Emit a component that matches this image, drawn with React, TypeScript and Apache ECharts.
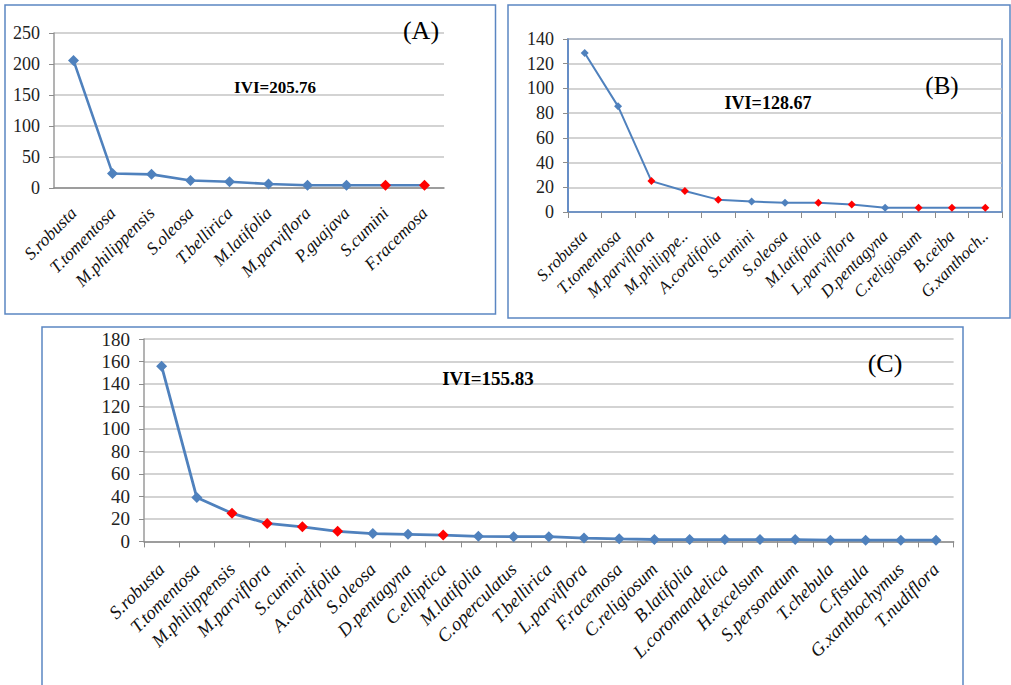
import React, { useEffect, useRef } from "react";
import * as echarts from "echarts";

// Panel A
const categoriesA = ["S.robusta", "T.tomentosa", "M.philippensis", "S.oleosa", "T.bellirica", "M.latifolia", "M.parviflora", "P.guajava", "S.cumini", "F.racemosa"];
const valuesA = [205.76, 23.5, 22, 12, 10, 6.5, 4.5, 4.5, 4.5, 4.5];
const highlightA = ["S.cumini", "F.racemosa"];

// Panel B
const categoriesB = ["S.robusta", "T.tomentosa", "M.parviflora", "M.philippe..", "A.cordifolia", "S.cumini", "S.oleosa", "M.latifolia", "L.parviflora", "D.pentagyna", "C.religiosum", "B.ceiba", "G.xanthoch.."];
const valuesB = [128.67, 85.5, 25, 17, 10, 8.5, 7.5, 7.5, 6, 3.5, 3.5, 3.5, 3.5];
const highlightB = ["M.parviflora", "M.philippe..", "A.cordifolia", "M.latifolia", "L.parviflora", "C.religiosum", "B.ceiba", "G.xanthoch.."];

// Panel C
const categoriesC = ["S.robusta", "T.tomentosa", "M.philippensis", "M.parviflora", "S.cumini", "A.cordifolia", "S.oleosa", "D.pentagyna", "C.elliptica", "M.latifolia", "C.operculatus", "T.bellirica", "L.parviflora", "F.racemosa", "C.religiosum", "B.latifolia", "L.coromandelica", "H.excelsum", "S.personatum", "T.chebula", "C.fistula", "G.xanthochymus", "T.nudiflora"];
const valuesC = [155.83, 39, 25, 16, 13, 9, 7, 6.3, 5.6, 4.5, 4.2, 4.2, 3, 2.3, 1.7, 1.6, 1.6, 1.6, 1.6, 1.1, 1.1, 1.1, 1.1];
const highlightC = ["M.philippensis", "M.parviflora", "S.cumini", "A.cordifolia", "C.elliptica"];

const panelTitles = ["(A)", "(B)", "(C)"];
const iviLabels = ["IVI=205.76", "IVI=128.67", "IVI=155.83"];
const yMax = [250, 140, 180];
const yInterval = [50, 20, 20];

const BLUE = "#4F81BD";
const RED = "#FF0000";
const FONT = "Liberation Serif";
const BOX = "#5B86C2";

function mkData(cats: string[], vals: number[], hi: string[]) {
  return vals.map((v, i) => ({
    value: v,
    itemStyle: { color: hi.includes(cats[i]) ? RED : BLUE },
  }));
}

export default function App() {
  const ref = useRef<HTMLDivElement>(null);
  useEffect(() => {
    if (!ref.current) return;
    const chart = echarts.init(ref.current, undefined, { renderer: "svg" });
    const grids = [
      { left: 54, top: 33, width: 390, height: 155 },
      { left: 568, top: 39, width: 434, height: 173, show: true, borderColor: BOX, borderWidth: 1.5, backgroundColor: "transparent" },
      { left: 144, top: 339, width: 809.6, height: 202.4 },
    ];
    const cats = [categoriesA, categoriesB, categoriesC];
    const xFont = [17.5, 17, 18.5];
    const yFont = [18, 18, 19];
    const xMargin = [22, 21, 25];
    const xAxes = cats.map((c, i) => ({
      type: "category",
      gridIndex: i,
      data: c,
      boundaryGap: true,
      axisLine: { show: true, lineStyle: { color: i === 1 ? BOX : "#8C8C8C", width: 1.5 } },
      axisTick: { show: i !== 0, length: 6, lineStyle: { color: "#8C8C8C", width: 1 } },
      axisLabel: {
        interval: 0,
        rotate: 45,
        margin: xMargin[i],
        fontFamily: FONT,
        fontStyle: "italic",
        fontSize: xFont[i],
        color: "#111",
      },
      splitLine: { show: false },
    }));
    const yAxes = yMax.map((m, i) => ({
      type: "value",
      gridIndex: i,
      min: 0,
      max: m,
      interval: yInterval[i],
      axisLine: { show: true, lineStyle: { color: i === 1 ? BOX : "#9A9A9A", width: 1.5 } },
      axisTick: { show: true, length: 5, lineStyle: { color: "#8C8C8C" } },
      axisLabel: { fontFamily: FONT, fontSize: yFont[i], color: "#222", margin: 14 },
      splitLine: { show: true, lineStyle: { color: "#C4C4C4", width: 1.5 } },
    }));
    const data = [
      mkData(categoriesA, valuesA, highlightA),
      mkData(categoriesB, valuesB, highlightB),
      mkData(categoriesC, valuesC, highlightC),
    ];
    const lineW = [2.6, 2, 2.8];
    const symSize = [11, 8, 11];
    const series = data.map((d, i) => ({
      type: "line",
      xAxisIndex: i,
      yAxisIndex: i,
      data: d,
      symbol: "diamond",
      symbolSize: symSize[i],
      showAllSymbol: true,
      lineStyle: { color: BLUE, width: lineW[i] },
      itemStyle: { color: BLUE },
      z: 3,
    }));
    const txt = (text: string, x: number, y: number, size: number, bold: boolean) => ({
      type: "text",
      z: 10,
      style: {
        text,
        x,
        y,
        fontFamily: FONT,
        fontSize: size,
        fontWeight: bold ? "bold" : "normal",
        fill: "#000",
        textAlign: "center",
        textVerticalAlign: "middle",
        align: "center",
        verticalAlign: "middle",
      },
    });
    const rect = (x: number, y: number, w: number, h: number) => ({
      type: "rect",
      z: 0,
      shape: { x, y, width: w, height: h },
      style: { fill: "none", stroke: BOX, lineWidth: 1.5 },
    });
    chart.setOption({
      animation: false,
      backgroundColor: "#fff",
      textStyle: { fontFamily: FONT },
      grid: grids,
      xAxis: xAxes,
      yAxis: yAxes,
      series,
      graphic: [
        rect(5, 5, 490.5, 309),
        rect(508, 5, 502, 313),
        rect(42, 327, 921, 370),
        txt(panelTitles[0], 421, 30, 26, false),
        txt(panelTitles[1], 942, 85, 25, false),
        txt(panelTitles[2], 885, 363, 26, false),
        txt(iviLabels[0], 275, 87, 17, true),
        txt(iviLabels[1], 768, 103, 18, true),
        txt(iviLabels[2], 488, 378, 19, true),
      ],
    });
    return () => chart.dispose();
  }, []);
  return (
    <div
      ref={ref}
      style={{ position: "fixed", left: 0, top: 0, width: 1011, height: 685, background: "#fff" }}
    />
  );
}
